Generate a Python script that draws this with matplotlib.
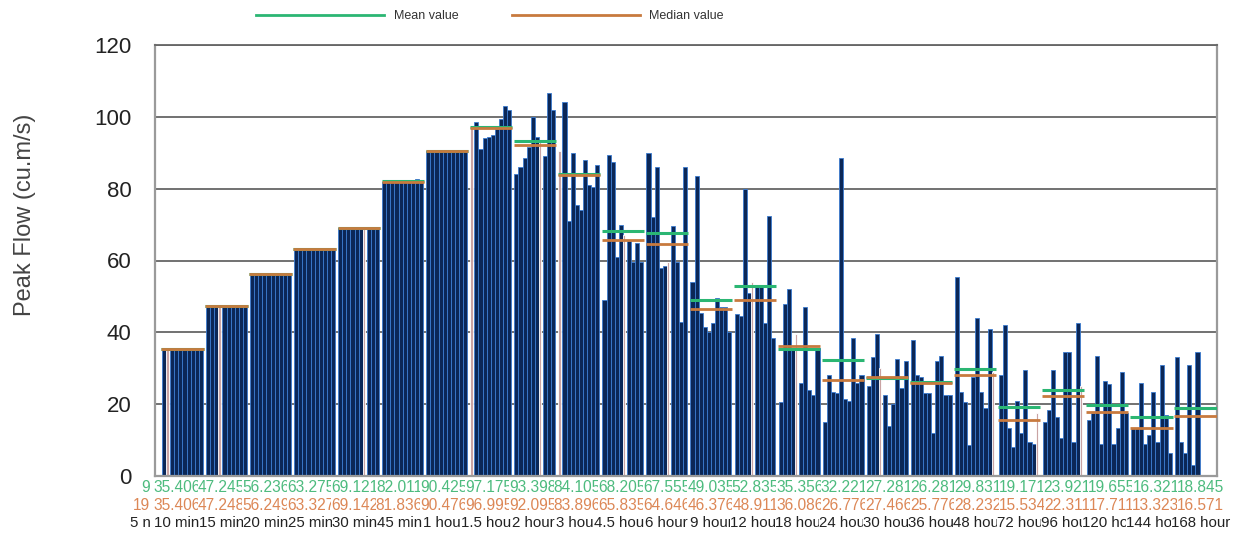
import numpy as np
import matplotlib.pyplot as plt
from matplotlib.lines import Line2D
from matplotlib.transforms import Bbox, blended_transform_factory

plt.rcParams['font.family'] = ['Liberation Sans', 'DejaVu Sans']

# storm durations and the summary values printed under each group
durations = ['10 min', '15 min', '20 min', '25 min', '30 min', '45 min', '1 hour', '1.5 hour',
             '2 hour', '3 hour', '4.5 hour', '6 hour', '9 hour', '12 hour', '18 hour', '24 hour',
             '30 hour', '36 hour', '48 hour', '72 hour', '96 hour', '120 hour', '144 hour', '168 hour']
mean_labels = ['35.406', '47.245', '56.236', '63.275', '69.121', '82.011', '90.425', '97.175',
               '93.398', '84.105', '68.205', '67.555', '49.035', '52.835', '35.356', '32.221',
               '27.281', '26.281', '29.831', '19.171', '23.921', '19.655', '16.321', '18.845']
median_labels = ['35.406', '47.248', '56.249', '63.327', '69.142', '81.836', '90.476', '96.995',
                 '92.095', '83.896', '65.835', '64.646', '46.376', '48.911', '36.086', '26.776',
                 '27.466', '25.776', '28.232', '15.534', '22.311', '17.711', '13.323', '16.571']

# peak flow of each run, per duration (cu.m/s)
q_10min = [35.4, 35.4, 35.4, 35.4, 35.4, 35.4, 35.4, 35.4, 35.4, 35.4]
q_15min = [47.24, 47.24, 47.24, 47.24, 47.24, 47.24, 47.24, 47.24, 47.24, 47.24]
q_20min = [56.2, 56.25, 56.25, 56.2, 56.25, 56.25, 56.2, 56.25, 56.2, 56.25]
q_25min = [63.35, 63.3, 63.3, 63.35, 63.3, 63.35, 63.3, 63.0, 63.1, 63.35]
q_30min = [69.15, 69.15, 69.1, 69.15, 69.15, 69.1, 69.15, 69.15, 69.0, 69.15]
q_45min = [81.8, 81.8, 81.8, 81.9, 81.8, 81.8, 81.9, 82.5, 82.6, 82.2]
q_1h = [90.5, 90.5, 90.4, 90.5, 90.5, 90.4, 90.5, 90.4, 90.1, 90.5]
q_1_5h = [97, 98.5, 91, 94, 94.5, 95, 96.5, 99.5, 103, 102]
q_2h = [84, 86, 88.5, 91.5, 100, 94.5, 93, 89, 106.5, 102]
q_3h = [90.5, 104, 71, 90, 75.5, 74, 88, 81, 80.5, 86.5]
q_4_5h = [49, 89.5, 87.5, 61, 70, 67, 65.5, 59.5, 65, 59.5]
q_6h = [90, 72, 86, 58, 58.5, 59.5, 69.5, 59.5, 43, 86]
q_9h = [54, 83.5, 45.5, 41.5, 40, 42.5, 49.5, 47, 47, 40]
q_12h = [45, 44.5, 80, 51, 54, 53, 52.5, 42.5, 72.5, 38.5]
q_18h = [20.5, 48, 52, 35.5, 39.5, 26, 47, 24, 22.5, 35.5]
q_24h = [15, 28, 23.5, 23, 88.5, 21.5, 21, 38.5, 26, 28]
q_30h = [25, 33, 39.5, 30, 22.5, 14, 20, 32.5, 24.5, 32]
q_36h = [38, 28, 27.5, 23, 23, 12, 32, 33.5, 22.5, 22.5]
q_48h = [55.5, 23.5, 20.5, 8.5, 27.5, 44, 23.5, 19, 41, 29]
q_72h = [28, 42, 13.5, 8, 21, 12, 29.5, 9.5, 9, 17.5]
q_96h = [15, 18.5, 29.5, 16.5, 10.5, 34.5, 34.5, 9.5, 42.5, 25]
q_120h = [15.5, 17.5, 33.5, 9, 26.5, 25.5, 9, 13.5, 29, 17.5]
q_144h = [13.5, 13.5, 26, 9, 11.5, 23.5, 9.5, 31, 17, 6.5]
q_168h = [33, 9.5, 6.5, 31, 3, 34.5]

peak_flows = [q_10min, q_15min, q_20min, q_25min, q_30min, q_45min, q_1h, q_1_5h, q_2h, q_3h,
              q_4_5h, q_6h, q_9h, q_12h, q_18h, q_24h, q_30h, q_36h, q_48h, q_72h, q_96h,
              q_120h, q_144h, q_168h]

# run drawn in the light colour within each group (None = all dark)
light_run = [1, 3, None, None, 6, None, None, 0, 6, 0, 5, 5, None, 4, 4, None, 3, None,
             9, 9, 9, None, None, None]

mean_vals = [float(v) for v in mean_labels]
median_vals = [float(v) for v in median_labels]

MEAN_C = '#2bb673'
MEDIAN_C = '#c87a3e'
BAR_C = '#0b2757'
EDGE_C = '#3b7bd0'

fig = plt.figure(figsize=(12.41, 5.35), dpi=100)
ax = fig.add_axes([155 / 1241, 1 - 476 / 535, (1217 - 155) / 1241, (476 - 45) / 535])

n_runs = 10
w = 0.093
for k, flows in enumerate(peak_flows):
    xs = k + (np.arange(len(flows)) - (n_runs - 1) / 2) * w
    bars = ax.bar(xs, flows, width=w, color=BAR_C, edgecolor=EDGE_C, linewidth=0.6, zorder=2)
    if light_run[k] is not None:
        b = bars[light_run[k]]
        b.set_facecolor('#c9a3a3')
        b.set_edgecolor('white')
        b.set_width(w * 0.6)

# mean first, median on top of it
ax.hlines(mean_vals, np.arange(24) - 0.48, np.arange(24) + 0.48, colors=MEAN_C, lw=2.2, zorder=4)
ax.hlines(median_vals, np.arange(24) - 0.48, np.arange(24) + 0.48, colors=MEDIAN_C, lw=2.0, zorder=5)

ax.set_xlim(-0.624, 23.49)
ax.set_ylim(0, 120)
ax.set_yticks(np.arange(0, 121, 20))
ax.tick_params(axis='y', length=0, pad=17, labelsize=16, labelcolor='#222')
ax.set_xticks([])
ax.set_axisbelow(True)
ax.yaxis.grid(True, color='#666666', lw=1.3)
for side in ['left', 'right', 'bottom']:
    ax.spines[side].set_color('#9a9a9a')
    ax.spines[side].set_linewidth(1.6)
ax.spines['top'].set_color('#666666')
ax.spines['top'].set_linewidth(1.3)

fig.text(25 / 1241, 1 - 215 / 535, 'Peak Flow (cu.m/s)', rotation=90, ha='center', va='center',
         fontsize=17, color='#444')

# three rows of category text; each label is centred under its slot and
# the following label hides whatever runs past its own left edge
trans = blended_transform_factory(ax.transData, ax.transAxes)
label_x = (177 + 44.5 * np.arange(24) - 182.5) / 44.04
rows = [(mean_labels, '#4dbb7e', (476 - 487) / 431, 11.2),
        (median_labels, '#dc8756', (476 - 505) / 431, 11.2),
        (durations, '#222222', (476 - 523) / 431, 10.8)]
renderer = fig.canvas.get_renderer()
for texts, col, yy, fs in rows:
    row = [ax.text(label_x[k], yy, s, transform=trans, ha='center', va='center',
                   fontsize=fs, color=col, clip_on=True) for k, s in enumerate(texts)]
    lefts = [t.get_window_extent(renderer).x0 for t in row] + [1e4]
    for k, t in enumerate(row):
        t.set_clip_path(None)
        t.set_clip_box(Bbox([[lefts[k], 0], [lefts[k + 1], 535]]))

# leftover fragments at the start of each row
fig.text(150 / 1241, 1 - 487 / 535, '9', ha='right', va='center', fontsize=11.2, color='#4dbb7e')
fig.text(150 / 1241, 1 - 505 / 535, '19', ha='right', va='center', fontsize=11.2, color='#dc8756')
fig.text(151 / 1241, 1 - 523 / 535, '5 n', ha='right', va='center', fontsize=10.8, color='#222222')

# legend
fig.add_artist(Line2D([256 / 1241, 384 / 1241], [1 - 15 / 535] * 2, color=MEAN_C, lw=2))
fig.text(394 / 1241, 1 - 16 / 535, 'Mean value', ha='left', va='center', fontsize=9, color='#333')
fig.add_artist(Line2D([512 / 1241, 640 / 1241], [1 - 15 / 535] * 2, color=MEDIAN_C, lw=2))
fig.text(649 / 1241, 1 - 16 / 535, 'Median value', ha='left', va='center', fontsize=9, color='#333')

fig.savefig('out.png', dpi=100)
